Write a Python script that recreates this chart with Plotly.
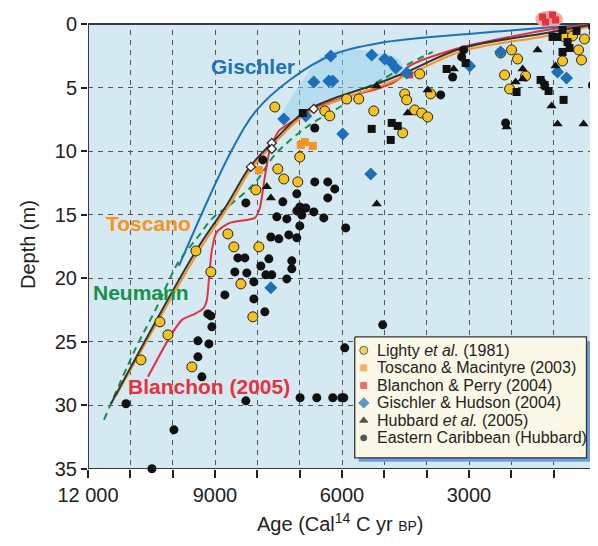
import plotly.graph_objects as go

# ---------------- data (age in cal yr BP, depth in m) ----------------
lighty_age = [9451, 9097, 8389, 10301, 10112, 10749, 9546, 8106, 6997, 7516, 7374, 7044, 8035, 8696, 8554, 7964,
              7587, 6407, 6289, 5888, 5604, 5250, 4519, 4472, 4283, 4566, 4165, 3905, 4118, 3976,
              1994, 1852, 2159, 1663, 2041, 790, 412, 342, 271, 743, 554, 2253]
lighty_depth = [17.85, 19.5, 20.44, 23.43, 24.45, 26.42, 26.97, 23.03, 10.46, 11.40, 12.19, 12.42, 13.05, 16.51, 17.53, 17.53,
                6.53, 6.84, 7.23, 5.90, 5.90, 6.84, 5.50, 5.97, 6.76, 8.57, 3.93, 5.50, 7.00, 7.31,
                2.04, 2.75, 4.01, 4.09, 5.11, 2.91, 2.04, 2.83, 1.18, 1.02, 0.94, 2.28]

toscano_age = [6973, 6879, 6690, 7964]
toscano_depth = [9.51, 9.28, 9.59, 11.48]

blanchon_age = [1262, 1191, 1026, 955, 4401, 30]
blanchon_depth = [-0.55, -0.16, -0.71, -0.31, 4.01, 1.02]

gischler_age = [6265, 5298, 4991, 4849, 4731, 6666, 6312, 6218, 7374, 5982, 6855, 4472, 2985, 2253, 908, 696, 5321, 7681]
gischler_depth = [2.52, 2.44, 2.75, 2.99, 3.46, 4.56, 4.48, 4.48, 7.47, 8.65, 7.23, 3.85, 3.30, 2.20, 3.77, 4.25, 11.79, 20.75]

hubbard_tri_age = [1380, 3362, 1734, 955, 3976, 4448, 1899, 1734, 1215, 1168, 1050, 908, 294, 2112, 11, 5180, 7776, 7681, 5180]
hubbard_tri_depth = [2.04, 3.54, 3.54, 3.30, 5.19, 7.00, 4.56, 4.32, 4.64, 5.03, 6.45, 7.86, 7.86, 8.10, 4.48, 4.87, 12.81, 13.68, 14.15]

hubbard_sq_age = [3528, 3079, 1026, 908, 790, 460, 672, 625, 790, 1309, 1215, 1120, 1876, 766, 5298, 4826, 4684, 4849, 6926]
hubbard_sq_depth = [3.54, 3.07, 1.02, 1.02, 0.47, 0.55, 1.42, 1.89, 2.20, 4.40, 4.80, 5.27, 5.35, 5.97, 8.25, 7.78, 8.02, 9.12, 7.00]

open_age = [6666, 7658, 7658, 8153]
open_depth = [6.68, 9.36, 9.83, 11.24]

carib_age = [3126, 3174, 3386, 3669, 2135, 82, 58, 82, 6643, 7870, 8271, 6643, 6336, 6171, 6336, 7068, 7398,
             6997, 7068, 6950, 6855, 6666, 6430, 7540, 7304, 6997, 5911, 7681, 7492, 7256, 7068,
             8460, 8295, 7728, 7917, 7186, 7186, 8531, 8248, 7799, 7658, 7304, 8082, 8767, 8082, 7823,
             9168, 9097, 9074, 9404, 9144, 9404, 9310, 8271, 11103, 9970,
             6990, 6596, 6218, 6006, 5958, 5038, 5935, 10490]
carib_depth = [2.04, 2.59, 4.17, 5.58, 7.78, 0.24, 0.71, 4.80, 8.18, 10.69, 14.07, 12.42, 12.42, 12.97, 13.68, 13.36, 13.99,
               14.39, 14.70, 15.02, 14.47, 14.78, 15.25, 15.17, 15.33, 15.88, 16.04, 16.75, 16.90, 16.59, 16.82,
               18.40, 18.40, 18.47, 19.03, 18.63, 19.26, 19.50, 19.58, 19.73, 19.73, 20.05, 20.28, 21.31, 21.62, 22.64,
               22.80, 22.96, 23.82, 24.92, 25.16, 26.18, 27.75, 29.64, 29.87, 31.92,
               29.40, 29.40, 29.40, 29.40, 29.40, 23.66, 25.47, 34.98]

# sea-level curves
black_age = [11457, 9451, 8720, 8177, 7658, 6926, 6407, 5888, 5180, 4472, 3150, 1168, 0]
black_depth = [29.87, 17.85, 14.23, 11.24, 9.36, 7.00, 6.13, 5.50, 4.72, 3.77, 1.89, 0.71, 0.0]

toscano_curve_age = [11339, 9380, 8672, 8130, 7634, 6879, 5864, 5156, 4448, 3150, 1168, 0]
toscano_curve_depth = [29.25, 17.85, 14.31, 11.32, 9.51, 7.15, 5.74, 4.95, 4.01, 2.12, 0.94, 0.08]

blanchon_curve_age = [10584, 10065, 9782, 9475, 9286, 9192, 9144, 9074, 8956, 8649, 8059, 7941, 7823, 7705,
                      7492, 6997, 6525, 5888, 5180, 4755, 4590, 4472, 4165, 3150, 1168, 0]
blanchon_curve_depth = [27.75, 24.61, 23.27, 22.80, 22.41, 21.70, 20.13, 17.77, 16.35, 15.64, 15.25, 14.47, 12.03, 9.91,
                        8.41, 7.31, 6.45, 5.74, 5.11, 4.56, 4.09, 3.46, 2.91, 1.81, 0.47, 0.0]

neumann_age = [11622, 10891, 10372, 10112, 9876, 9404, 9050, 8649, 8059, 7587, 6832, 6053, 5416, 4944, 4472, 3858]
neumann_depth = [31.13, 25.63, 22.25, 20.36, 18.79, 16.75, 15.25, 14.23, 12.50, 10.30, 8.10, 6.53, 5.03, 4.17, 3.22, 2.20]

gischler_curve_age = [9852, 8602, 8012, 7233, 6242, 5109, 2749, 0]
gischler_curve_depth = [19.03, 9.91, 6.76, 4.40, 2.44, 1.49, 0.71, 0.0]

env_age = [7469, 6926, 6360, 5746, 5109, 4637, 4590, 4944, 5746, 6525, 6926, 7351]
env_depth = [7.3, 4.4, 2.3, 2.0, 2.3, 2.8, 3.6, 4.4, 5.2, 6.4, 7.3, 7.7]

x_tick_vals = list(range(0, 12001, 1000))
x_tick_text = ['12 000' if v == 12000 else (str(v) if v % 3000 == 0 else '') for v in x_tick_vals]
y_tick_vals = [0, 5, 10, 15, 20, 25, 30, 35]

legend_labels = ['Lighty <i>et al.</i> (1981)', 'Toscano &amp; Macintyre (2003)', 'Blanchon &amp; Perry (2004)',
                 'Gischler &amp; Hudson (2004)', 'Hubbard <i>et al.</i> (2005)', 'Eastern Caribbean (Hubbard)']

AGE_MAX, DEPTH_MAX = 12000, 35
DEPTH_TOP = -1.1   # room above sea level for the modern points
FONT = 'Liberation Sans, Arial, Helvetica, sans-serif'

BLUE = '#1b72bb'
ORANGE = '#f7941d'
RED = '#e5323f'
GREEN = '#14924a'
BLACK = '#333333'
YELLOW = '#f8c21c'
DIAMOND = '#1d6fba'

fig = go.Figure()

# Gischler envelope
fig.add_trace(go.Scatter(x=env_age, y=env_depth, mode='lines', fill='toself',
                         fillcolor='rgba(150,210,236,0.5)', line=dict(width=0, shape='spline'),
                         hoverinfo='skip', showlegend=False))

# curves
fig.add_trace(go.Scatter(x=gischler_curve_age, y=gischler_curve_depth, mode='lines',
                         line=dict(color=BLUE, width=2, shape='spline'), showlegend=False))
fig.add_trace(go.Scatter(x=neumann_age, y=neumann_depth, mode='lines',
                         line=dict(color=GREEN, width=2, dash='7px,5px', shape='spline'), showlegend=False))
fig.add_trace(go.Scatter(x=blanchon_curve_age, y=blanchon_curve_depth, mode='lines',
                         line=dict(color=RED, width=2, shape='spline', smoothing=0.6), showlegend=False))
fig.add_trace(go.Scatter(x=toscano_curve_age, y=toscano_curve_depth, mode='lines',
                         line=dict(color=ORANGE, width=2, shape='spline'), showlegend=False))
fig.add_trace(go.Scatter(x=black_age, y=black_depth, mode='lines',
                         line=dict(color=BLACK, width=2, shape='spline'), showlegend=False))

# data markers
fig.add_trace(go.Scatter(x=lighty_age, y=lighty_depth, mode='markers', showlegend=False,
                         marker=dict(symbol='circle', size=10, color=YELLOW, line=dict(color='#222', width=1)),
                         cliponaxis=False))
fig.add_trace(go.Scatter(x=toscano_age, y=toscano_depth, mode='markers', showlegend=False,
                         marker=dict(symbol='square', size=8, color=ORANGE), cliponaxis=False))
fig.add_trace(go.Scatter(x=blanchon_age, y=blanchon_depth, mode='markers', showlegend=False,
                         marker=dict(symbol='square', size=7, color=RED), cliponaxis=False))
fig.add_trace(go.Scatter(x=gischler_age, y=gischler_depth, mode='markers', showlegend=False,
                         marker=dict(symbol='diamond', size=10, color=DIAMOND), cliponaxis=False))
fig.add_trace(go.Scatter(x=hubbard_tri_age, y=hubbard_tri_depth, mode='markers', showlegend=False,
                         marker=dict(symbol='triangle-up', size=9, color='#111'), cliponaxis=False))
fig.add_trace(go.Scatter(x=carib_age, y=carib_depth, mode='markers', showlegend=False,
                         marker=dict(symbol='circle', size=9, color='#111'), cliponaxis=False))
fig.add_trace(go.Scatter(x=hubbard_sq_age, y=hubbard_sq_depth, mode='markers', showlegend=False,
                         marker=dict(symbol='square', size=8, color='#111'), cliponaxis=False))
fig.add_trace(go.Scatter(x=open_age, y=open_depth, mode='markers', showlegend=False,
                         marker=dict(symbol='diamond', size=7, color='white', line=dict(color='#222', width=1.2)),
                         cliponaxis=False))

# ---------------- hand-built legend (box, shadow, keys) in data units ----------------
PX_AGE = AGE_MAX / 508.0      # years per pixel
PX_DEP = DEPTH_MAX / 445.0    # metres per pixel
leg_left, leg_right = 5699, 224
leg_top, leg_bot = 24.61, 34.12
sh_dx, sh_dy = 4 * PX_AGE, 4 * PX_DEP
fig.add_trace(go.Scatter(x=[leg_left - sh_dx, leg_right - sh_dx, leg_right - sh_dx, leg_left - sh_dx, leg_left - sh_dx],
                         y=[leg_top + sh_dy, leg_top + sh_dy, leg_bot + sh_dy, leg_bot + sh_dy, leg_top + sh_dy],
                         mode='lines', fill='toself', fillcolor='#6d9fd5', line=dict(width=0),
                         hoverinfo='skip', showlegend=False))
fig.add_trace(go.Scatter(x=[leg_left, leg_right, leg_right, leg_left, leg_left],
                         y=[leg_top, leg_top, leg_bot, leg_bot, leg_top],
                         mode='lines', fill='toself', fillcolor='#fbf8e7', line=dict(width=1.3, color='#333'),
                         hoverinfo='skip', showlegend=False))
row0 = leg_top + 13.5 * PX_DEP
row_step = 17.5 * PX_DEP
rows = [row0 + i * row_step for i in range(len(legend_labels))]
key_age = leg_left - 9 * PX_AGE
text_age = leg_left - 20 * PX_AGE
fig.add_trace(go.Scatter(x=[key_age] * len(rows), y=rows, mode='markers', showlegend=False, hoverinfo='skip',
                         marker=dict(symbol=['circle', 'square', 'square', 'diamond', 'triangle-up', 'circle'],
                                     size=[8, 6, 6, 8, 7, 6],
                                     color=[YELLOW, ORANGE, RED, DIAMOND, '#111', '#111'],
                                     line=dict(color=['#222', ORANGE, RED, DIAMOND, '#111', '#111'], width=1))))

annotations = [
    dict(x=text_age, y=r, xref='x', yref='y', text=t, showarrow=False, xanchor='left', yanchor='middle',
         font=dict(family=FONT, size=16, color='#222'))
    for t, r in zip(legend_labels, rows)
]
annotations += [
    dict(x=8106, y=3.38, xref='x', yref='y', text='<b>Gischler</b>', showarrow=False,
         font=dict(family=FONT, size=21, color=BLUE)),
    dict(x=10560, y=15.7, xref='x', yref='y', text='<b>Toscano</b>', showarrow=False,
         font=dict(family=FONT, size=21, color=ORANGE)),
    dict(x=10749, y=21.1, xref='x', yref='y', text='<b>Neumann</b>', showarrow=False,
         font=dict(family=FONT, size=21, color=GREEN)),
    dict(x=9144, y=28.5, xref='x', yref='y', text='<b>Blanchon (2005)</b>', showarrow=False,
         font=dict(family=FONT, size=21, color=RED)),
    dict(x=-0.118, y=0.488, xref='paper', yref='paper', text='Depth (m)', textangle=-90, showarrow=False,
         xanchor='center', yanchor='middle', font=dict(family=FONT, size=20, color='#222')),
    dict(x=0.498, y=-0.1176, xref='paper', yref='paper',
         text="Age (Cal<sup>14</sup> C yr <span style='font-size:14px'>BP</span>)", showarrow=False,
         xanchor='center', yanchor='middle', font=dict(family=FONT, size=20, color='#222')),
]

# background, white strip above sea level, frame, pink ellipse
bp_ages = blanchon_age[:4]
bp_depths = blanchon_depth[:4]
shapes = [
    dict(type='rect', xref='x', yref='y', x0=AGE_MAX, x1=0, y0=0, y1=DEPTH_MAX,
         fillcolor='#d5e9f3', line=dict(width=0), layer='below'),
    dict(type='rect', xref='x', yref='y', x0=AGE_MAX, x1=0, y0=DEPTH_TOP, y1=0,
         fillcolor='white', line=dict(width=0), layer='between'),
    dict(type='rect', xref='x', yref='y', x0=AGE_MAX, x1=0, y0=0, y1=DEPTH_MAX,
         fillcolor='rgba(0,0,0,0)', line=dict(width=2, color='#3a3a3a'), layer='between'),
    dict(type='circle', xref='x', yref='y', x0=max(bp_ages) + 170, x1=min(bp_ages) - 170,
         y0=min(bp_depths) - 0.35, y1=max(bp_depths) + 0.45,
         fillcolor='#f3a99e', line=dict(width=0), layer='between'),
]

# the page body has an 8px default margin, so the figure is 8px smaller and margins shifted
fig.update_layout(
    width=590, height=538,
    margin=dict(l=80, r=2, t=2, b=77),
    paper_bgcolor='white', plot_bgcolor='white',
    font=dict(family=FONT, size=20, color='#222'),
    shapes=shapes, annotations=annotations,
    showlegend=False,
)
fig.update_xaxes(range=[AGE_MAX, 0], tickvals=x_tick_vals, ticktext=x_tick_text,
                 ticks='outside', ticklen=8, tickwidth=1.5, tickcolor='#222',
                 showline=False, automargin=False, ticklabeloverflow='allow',
                 showgrid=True, gridcolor='#555', gridwidth=1.3, griddash='5px,5px',
                 zeroline=False, tickfont=dict(family=FONT, size=20, color='#222'))
fig.update_yaxes(range=[DEPTH_MAX, DEPTH_TOP], tickvals=y_tick_vals,
                 ticks='outside', ticklen=6, tickwidth=1.5, tickcolor='#222',
                 showline=False, automargin=False, ticklabeloverflow='allow',
                 showgrid=True, gridcolor='#555', gridwidth=1.3, griddash='5px,5px',
                 zeroline=False, tickfont=dict(family=FONT, size=20, color='#222'))

fig.write_html('out.html')
